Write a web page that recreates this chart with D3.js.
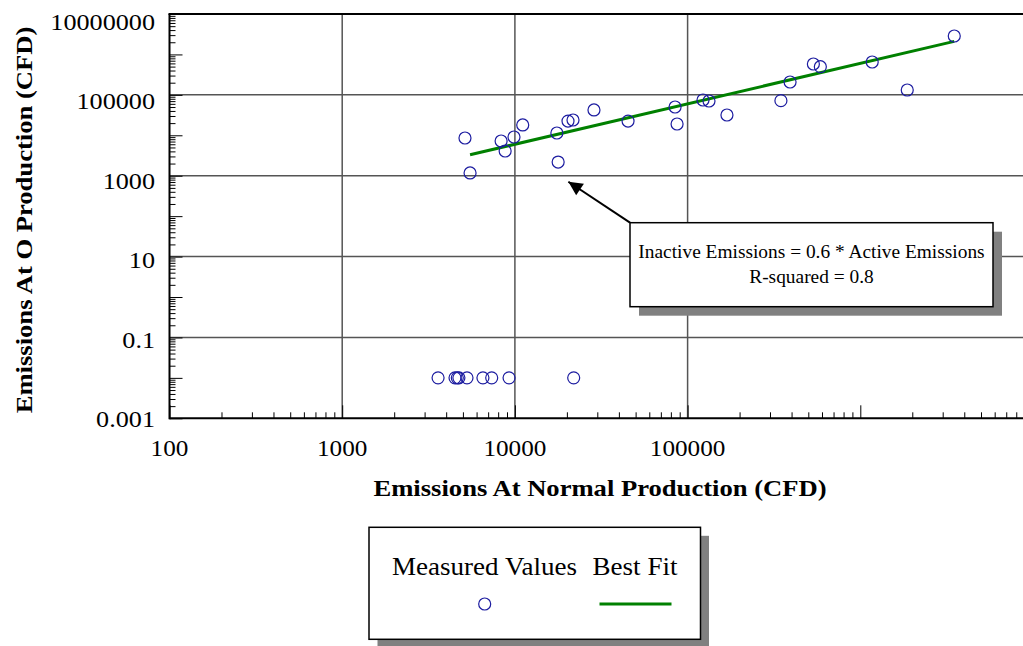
<!DOCTYPE html>
<html>
<head>
<meta charset="utf-8">
<script src="https://cdn.jsdelivr.net/npm/d3@7"></script>
<style>
  body { margin: 0; background: #fff; }
  svg { display: block; font-family: "Liberation Serif", "Times New Roman", serif; }
</style>
</head>
<body>
<svg id="chart" width="1023" height="646"></svg>
<script>
// measured points
var normalProd = [5140, 5500, 8320, 8780, 9880, 11100, 17500, 17800, 20300, 21700,
                  28700, 45200, 84600, 86900, 122800, 133000, 169000, 347000, 392000,
                  535000, 587000, 1172000, 1870000, 3500000,
                  3590, 4500, 4640, 4740, 5280, 6530, 7340, 9250, 21900];
var reducedProd = [8570, 1170, 7230, 4090, 9080, 18000, 11400, 2180, 22500, 23900,
                   42300, 22500, 50100, 19000, 74700, 70500, 31800, 71800, 208000,
                   580000, 497000, 650000, 132000, 2860000,
                   0.01, 0.01, 0.01, 0.01, 0.01, 0.01, 0.01, 0.01, 0.01];

// best fit line ends
var fitX = [5500, 3500000];
var fitY = [3300, 2100000];

var xLabels = [100, 1000, 10000, 100000];
var yLabels = [10000000, 100000, 1000, 10, 0.1, 0.001];
var xGrid = [1000, 10000, 100000];
var yGrid = [100000, 1000, 10, 0.1];

var noteLines = ["Inactive Emissions = 0.6 * Active Emissions", "R-squared = 0.8"];
var noteTip = [20400, 711];

var svg = d3.select("#chart");

var x = d3.scaleLog().domain([100, 1e7]).range([169.5, 1033]);
var y = d3.scaleLog().domain([0.001, 1e7]).range([418.3, 14]);

function minors(lo, hi) {
  var out = [];
  for (var e = lo; e < hi; e++) {
    for (var m = 2; m <= 9; m++) out.push(m * Math.pow(10, e));
  }
  return out;
}
function decades(lo, hi) {
  var out = [];
  for (var e = lo; e <= hi; e++) out.push(Math.pow(10, e));
  return out;
}
// the old chart's type is drawn a bit wider than ours
function stretch(sel, k) {
  sel.each(function() {
    var w = this.getComputedTextLength();
    d3.select(this).attr("textLength", w * k).attr("lengthAdjust", "spacingAndGlyphs");
  });
}

// grid
svg.selectAll(".vgrid").data(xGrid).enter().append("line")
    .attr("x1", function(d) { return x(d); }).attr("x2", function(d) { return x(d); })
    .attr("y1", y(1e7)).attr("y2", y(0.001))
    .attr("stroke", "#555").attr("stroke-width", 1.5);
svg.selectAll(".hgrid").data(yGrid).enter().append("line")
    .attr("x1", x(100)).attr("x2", 1023)
    .attr("y1", function(d) { return y(d); }).attr("y2", function(d) { return y(d); })
    .attr("stroke", "#555").attr("stroke-width", 1.5);

// axes (ticks point inward)
var left = svg.append("g").attr("transform", "translate(" + x(100) + ",0)");
left.append("g").call(d3.axisLeft(y).tickValues(minors(-3, 7)).tickSize(-6).tickFormat(""));
left.append("g").call(d3.axisLeft(y).tickValues(decades(-3, 7)).tickSize(-13).tickFormat(""));
var bottom = svg.append("g").attr("transform", "translate(0," + y(0.001) + ")");
bottom.append("g").call(d3.axisBottom(x).tickValues(minors(2, 7)).tickSize(-6).tickFormat(""));
bottom.append("g").call(d3.axisBottom(x).tickValues(decades(2, 6)).tickSize(-13).tickFormat(""));
svg.selectAll(".domain").remove();
svg.selectAll(".tick line").attr("stroke", "#000").attr("stroke-width", 1);

// frame
svg.append("line").attr("x1", x(100)).attr("x2", x(100)).attr("y1", y(1e7)).attr("y2", y(0.001) + 1)
    .attr("stroke", "#000").attr("stroke-width", 2);
svg.append("line").attr("x1", x(100)).attr("x2", 1023).attr("y1", y(0.001)).attr("y2", y(0.001))
    .attr("stroke", "#000").attr("stroke-width", 2);
svg.append("line").attr("x1", x(100) - 1).attr("x2", 1023).attr("y1", y(1e7)).attr("y2", y(1e7))
    .attr("stroke", "#000").attr("stroke-width", 2);

// tick labels
svg.selectAll(".xlab").data(xLabels).enter().append("text")
    .attr("x", function(d) { return x(d); }).attr("y", 456)
    .attr("text-anchor", "middle").attr("font-size", 24)
    .text(function(d) { return d; })
    .call(stretch, 1.05);
svg.selectAll(".ylab").data(yLabels).enter().append("text")
    .attr("x", 155).attr("y", function(d) { return 30 + (y(d) - 14) * 0.982; })
    .attr("text-anchor", "end").attr("font-size", 24)
    .text(function(d) { return d >= 1 ? d3.format("d")(d) : d3.format("")(d); })
    .call(stretch, 1.09);

// axis titles
svg.append("text").attr("x", 600).attr("y", 496).attr("text-anchor", "middle")
    .attr("font-size", 24).attr("font-weight", "bold")
    .text("Emissions At Normal Production (CFD)")
    .call(stretch, 1.108);
svg.append("text").attr("transform", "translate(32,220) rotate(-90)").attr("text-anchor", "middle")
    .attr("font-size", 24).attr("font-weight", "bold")
    .text("Emissions At O Production (CFD)")
    .call(stretch, 1.108);

// fit line
svg.append("path")
    .datum(d3.zip(fitX, fitY))
    .attr("d", d3.line().x(function(d) { return x(d[0]); }).y(function(d) { return y(d[1]); }))
    .attr("stroke", "#008000").attr("stroke-width", 3).attr("fill", "none");

// points
svg.selectAll(".pt").data(d3.zip(normalProd, reducedProd)).enter().append("circle")
    .attr("cx", function(d) { return x(d[0]); })
    .attr("cy", function(d) { return y(d[1]); })
    .attr("r", 6).attr("fill", "none").attr("stroke", "#1c1ca0").attr("stroke-width", 1.2);

// annotation
var bx = 630, by = 222.7, bw = 363, bh = 84;
svg.append("defs").append("marker").attr("id", "head")
    .attr("viewBox", "0 0 10 10").attr("refX", 10).attr("refY", 5)
    .attr("markerWidth", 13).attr("markerHeight", 7).attr("markerUnits", "strokeWidth")
    .attr("orient", "auto")
  .append("path").attr("d", "M0,0L10,5L0,10Z").attr("fill", "#000");
svg.append("line").attr("x1", bx).attr("y1", by).attr("x2", x(noteTip[0])).attr("y2", y(noteTip[1]))
    .attr("stroke", "#000").attr("stroke-width", 2).attr("marker-end", "url(#head)");
svg.append("rect").attr("x", bx + 9).attr("y", by + 9).attr("width", bw).attr("height", bh).attr("fill", "#808080");
svg.append("rect").attr("x", bx).attr("y", by).attr("width", bw).attr("height", bh)
    .attr("fill", "#fff").attr("stroke", "#000").attr("stroke-width", 1.5);
svg.selectAll(".note").data(noteLines).enter().append("text")
    .attr("x", bx + bw / 2).attr("y", function(d, i) { return 258 + i * 25; })
    .attr("text-anchor", "middle").attr("font-size", 19)
    .text(function(d) { return d; })
    .call(stretch, 1.02);

// legend
var lx = 369, ly = 527.3, lw = 331.5, lh = 112;
svg.append("rect").attr("x", lx + 8.5).attr("y", ly + 8.5).attr("width", lw).attr("height", lh).attr("fill", "#808080");
svg.append("rect").attr("x", lx).attr("y", ly).attr("width", lw).attr("height", lh)
    .attr("fill", "#fff").attr("stroke", "#000").attr("stroke-width", 1.5);
svg.append("text").attr("x", 484.5).attr("y", 575).attr("text-anchor", "middle").attr("font-size", 26)
    .text("Measured Values").call(stretch, 1.04);
svg.append("text").attr("x", 635).attr("y", 575).attr("text-anchor", "middle").attr("font-size", 26)
    .text("Best Fit").call(stretch, 1.04);
svg.append("circle").attr("cx", 484.7).attr("cy", 604).attr("r", 6)
    .attr("fill", "none").attr("stroke", "#1c1ca0").attr("stroke-width", 1.2);
svg.append("line").attr("x1", 599.5).attr("x2", 671.5).attr("y1", 604).attr("y2", 604)
    .attr("stroke", "#008000").attr("stroke-width", 3);
</script>
</body>
</html>
